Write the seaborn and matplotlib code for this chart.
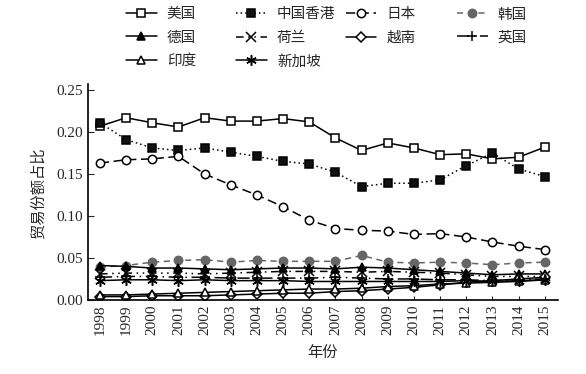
import numpy as np
import pandas as pd
import seaborn as sns
import matplotlib.pyplot as plt
from matplotlib.ticker import FormatStrFormatter

years = list(range(1998, 2016))

us = [0.207, 0.217, 0.211, 0.206, 0.217, 0.213, 0.213, 0.216, 0.212, 0.193, 0.178, 0.187, 0.181, 0.173, 0.174, 0.168, 0.170, 0.182]
hk = [0.211, 0.191, 0.181, 0.178, 0.181, 0.176, 0.171, 0.165, 0.162, 0.152, 0.135, 0.139, 0.139, 0.143, 0.160, 0.175, 0.156, 0.147]
jp = [0.163, 0.167, 0.168, 0.171, 0.150, 0.137, 0.125, 0.111, 0.095, 0.085, 0.083, 0.082, 0.078, 0.079, 0.075, 0.069, 0.064, 0.060]
kr = [0.039, 0.041, 0.045, 0.047, 0.048, 0.045, 0.047, 0.046, 0.046, 0.046, 0.053, 0.045, 0.044, 0.045, 0.044, 0.042, 0.044, 0.045]
de = [0.041, 0.040, 0.038, 0.038, 0.037, 0.036, 0.037, 0.038, 0.038, 0.037, 0.039, 0.038, 0.036, 0.034, 0.032, 0.030, 0.031, 0.031]
nl = [0.031, 0.032, 0.032, 0.032, 0.031, 0.032, 0.033, 0.034, 0.034, 0.034, 0.033, 0.034, 0.033, 0.032, 0.030, 0.028, 0.028, 0.028]
vn = [0.004, 0.004, 0.005, 0.005, 0.005, 0.006, 0.007, 0.008, 0.008, 0.010, 0.011, 0.013, 0.015, 0.018, 0.021, 0.023, 0.025, 0.027]
uk = [0.027, 0.028, 0.028, 0.027, 0.027, 0.026, 0.026, 0.026, 0.026, 0.027, 0.026, 0.025, 0.025, 0.024, 0.024, 0.023, 0.024, 0.025]
india = [0.006, 0.006, 0.007, 0.008, 0.009, 0.010, 0.011, 0.012, 0.013, 0.013, 0.014, 0.016, 0.017, 0.019, 0.020, 0.021, 0.022, 0.024]
sg = [0.023, 0.024, 0.024, 0.023, 0.024, 0.023, 0.023, 0.023, 0.022, 0.022, 0.022, 0.022, 0.022, 0.022, 0.023, 0.022, 0.023, 0.024]

names = ['美国', '中国香港', '日本', '韩国', '德国', '荷兰', '越南', '英国', '印度', '新加坡']
series = [us, hk, jp, kr, de, nl, vn, uk, india, sg]

# style per series: (linestyle, marker, facecolor, edgecolor/linecolor)
styles = [
    ('-', 's', 'white', 'black'),
    ((0, (1, 2)), 's', '#111111', 'black'),
    ((0, (6, 3)), 'o', 'white', 'black'),
    ((0, (4, 3)), 'o', '#666666', '#666666'),
    ('-', '^', 'black', 'black'),
    ((0, (5, 3, 1, 3, 1, 3)), 'x', 'none', 'black'),
    ('-', 'D', 'white', 'black'),
    ((0, (8, 3, 1, 3)), '+', 'none', 'black'),
    ('-', '^', 'white', 'black'),
    ('-', (6, 2, 0), 'none', 'black'),
]

sns.set_style('ticks')
plt.rcParams['font.family'] = ['Liberation Serif', 'Noto Sans CJK SC']
plt.rcParams['xtick.direction'] = 'in'
plt.rcParams['ytick.direction'] = 'in'

fig = plt.figure(figsize=(5.86, 3.74), dpi=100)
ax = fig.add_axes([0.150, 0.198, 0.802, 0.577])

handles = []
for name, vals, (ls, mk, fc, ec) in zip(names, series, styles):
    df = pd.DataFrame({'year': years, 'share': vals})
    size = 6 if mk != 'D' else 5
    if mk in ('x', '+', (6, 2, 0)):
        size = 7.5
    sns.lineplot(data=df, x='year', y='share', ax=ax, color=ec, linestyle=ls,
                 linewidth=1.1, marker=mk, markersize=size, markerfacecolor=fc,
                 markeredgecolor=ec, markeredgewidth=1.1, label=name, legend=False)
    handles.append(ax.lines[-1])

ax.set_xlim(1997.54, 2015.5)
ax.set_ylim(0, 0.257)
ax.set_xticks(years)
ax.set_xticklabels([str(y) for y in years], rotation=90, fontsize=11)
ax.set_yticks([0, 0.05, 0.10, 0.15, 0.20, 0.25])
ax.yaxis.set_major_formatter(FormatStrFormatter('%.2f'))
ax.tick_params(axis='y', labelsize=11, length=4, width=0.8)
ax.tick_params(axis='x', length=3, width=0.8)
sns.despine(ax=ax)
for sp in ['left', 'bottom']:
    ax.spines[sp].set_linewidth(1.2)
    ax.spines[sp].set_color('black')

ax.set_xlabel('年份', fontsize=11, labelpad=8)
ax.set_ylabel('贸易份额占比', fontsize=11, labelpad=8)

# legend in four separate columns, placed like the original
columns = [[0, 4, 8], [1, 5, 9], [2, 6], [3, 7]]
col_x = [0.215, 0.403, 0.590, 0.780]
for idx, x0 in zip(columns, col_x):
    leg = fig.legend([handles[i] for i in idx], [names[i] for i in idx],
                     loc='upper left', bbox_to_anchor=(x0, 0.978),
                     frameon=False, fontsize=10.5, handlelength=2.1,
                     handletextpad=0.7, labelspacing=0.68,
                     borderpad=0, borderaxespad=0)

fig.savefig('out.png', dpi=100)
